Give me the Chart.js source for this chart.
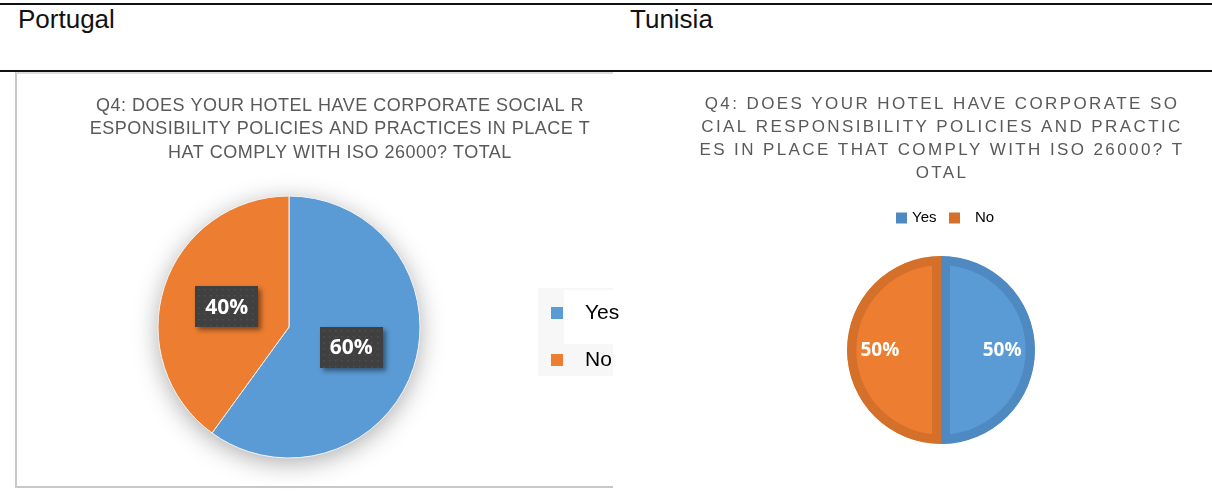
<!DOCTYPE html>
<html>
<head>
<meta charset="utf-8">
<script src="https://cdn.jsdelivr.net/npm/chart.js@4.4.1/dist/chart.umd.min.js"></script>
<style>
  body { margin: 0; background: #fff; width: 1212px; height: 501px; position: relative; overflow: hidden; }
  .rule { position: absolute; left: 0; width: 1212px; height: 2px; background: #111; }
  .country { position: absolute; top: 4px; font-family: "Liberation Sans", Arial, sans-serif; font-size: 26px; color: #111; }
  #panel { position: absolute; left: 15px; top: 72px; width: 598px; height: 416px;
           border-left: 2px solid #c8c8c8; border-bottom: 2px solid #c8c8c8; border-top: 2px solid #dcdcdc; box-sizing: border-box; }
  canvas { position: absolute; }
</style>
</head>
<body>
<div class="rule" style="top:3px"></div>
<div class="rule" style="top:70px"></div>
<div class="country" style="left:18px">Portugal</div>
<div class="country" style="left:630px">Tunisia</div>
<div id="panel"></div>
<canvas id="tnChart" width="599" height="429" style="left:613px; top:72px"></canvas>
<canvas id="ptChart" width="630" height="418" style="left:16px; top:72px"></canvas>

<script>
// answers to Q4, percent of hotels
const answers = ['Yes', 'No'];
const portugalValues = [60, 40];
const tunisiaValues = [50, 50];

const portugalTitle = [
  'Q4: DOES YOUR HOTEL HAVE CORPORATE SOCIAL R',
  'ESPONSIBILITY POLICIES AND PRACTICES IN PLACE T',
  'HAT COMPLY WITH ISO 26000? TOTAL'
];
const tunisiaTitle = [
  'Q4: DOES YOUR HOTEL HAVE CORPORATE SO',
  'CIAL RESPONSIBILITY POLICIES AND PRACTIC',
  'ES IN PLACE THAT COMPLY WITH ISO 26000? T',
  'OTAL'
];

const blue = '#5b9bd5';
const orange = '#ed7d31';

// title drawn line by line, centred on a given x
const titleLines = {
  id: 'titleLines',
  afterDraw(chart, args, opts) {
    const ctx = chart.ctx;
    ctx.save();
    ctx.fillStyle = '#595959';
    ctx.font = opts.font;
    ctx.letterSpacing = opts.spacing || '0px';
    ctx.textAlign = 'center';
    ctx.textBaseline = 'middle';
    opts.lines.forEach((line, i) => {
      ctx.fillText(line, opts.x, opts.y + i * opts.lineHeight);
    });
    ctx.restore();
  }
};

// soft shadow under the whole pie
const pieShadow = {
  id: 'pieShadow',
  beforeDatasetsDraw(chart, args, opts) {
    if (!opts.enabled) return;
    const arc = chart.getDatasetMeta(0).data[0];
    const p = arc.getProps(['x', 'y', 'outerRadius'], true);
    const ctx = chart.ctx;
    ctx.save();
    ctx.shadowColor = 'rgba(0,0,0,0.35)';
    ctx.shadowBlur = 26;
    ctx.shadowOffsetY = 5;
    ctx.fillStyle = '#fff';
    ctx.beginPath();
    ctx.arc(p.x, p.y, p.outerRadius - 1, 0, Math.PI * 2);
    ctx.fill();
    ctx.restore();
  }
};

// percentage labels, optionally on a dark dotted box
const sliceLabels = {
  id: 'sliceLabels',
  afterDatasetsDraw(chart, args, opts) {
    const ctx = chart.ctx;
    const values = chart.data.datasets[0].data;
    const total = values.reduce((a, b) => a + b, 0);
    chart.getDatasetMeta(0).data.forEach((arc, i) => {
      const p = arc.getProps(['x', 'y', 'startAngle', 'endAngle', 'outerRadius'], true);
      const mid = (p.startAngle + p.endAngle) / 2;
      const cx = p.x + Math.cos(mid) * p.outerRadius * opts.factor;
      const cy = p.y + Math.sin(mid) * p.outerRadius * opts.factor;
      const text = Math.round(values[i] / total * 100) + '%';
      ctx.save();
      if (opts.box) {
        const w = 63, h = 41;
        const x0 = Math.round(cx - w / 2), y0 = Math.round(cy - h / 2);
        ctx.shadowColor = 'rgba(0,0,0,0.45)';
        ctx.shadowBlur = 5;
        ctx.shadowOffsetX = 3;
        ctx.shadowOffsetY = 3;
        ctx.fillStyle = '#404040';
        ctx.fillRect(x0, y0, w, h);
        ctx.shadowColor = 'transparent';
        ctx.fillStyle = '#4f4f4f';
        for (let yy = y0 + 3; yy < y0 + h; yy += 6) {
          for (let xx = x0 + 3; xx < x0 + w; xx += 6) {
            ctx.fillRect(xx, yy, 1.5, 1.5);
          }
        }
      }
      ctx.fillStyle = '#fff';
      ctx.font = opts.font;
      ctx.textAlign = 'center';
      ctx.textBaseline = 'middle';
      ctx.fillText(text, cx, cy + 1);
      ctx.restore();
    });
  }
};

// legend with square markers at fixed spots
const squareLegend = {
  id: 'squareLegend',
  afterDraw(chart, args, opts) {
    const ctx = chart.ctx;
    const ds = chart.data.datasets[0];
    ctx.save();
    if (opts.panel) {
      ctx.fillStyle = '#f7f7f7';
      ctx.fillRect(opts.panel[0], opts.panel[1], opts.panel[2], opts.panel[3]);
      ctx.fillStyle = '#fff';
      ctx.fillRect(opts.panel[0] + 26, opts.panel[1] + 2, opts.panel[2] - 26, 54);
    }
    ctx.font = opts.font;
    ctx.textBaseline = 'middle';
    chart.data.labels.forEach((label, i) => {
      const pos = opts.items[i];
      ctx.fillStyle = ds.legendColor ? ds.legendColor[i] : ds.backgroundColor[i];
      ctx.fillRect(pos[0], pos[1] - opts.box / 2, opts.box, opts.box);
      ctx.fillStyle = '#000';
      ctx.fillText(label, pos[2], pos[1]);
    });
    ctx.restore();
  }
};

new Chart(document.getElementById('ptChart'), {
  type: 'pie',
  data: {
    labels: answers,
    datasets: [{
      data: portugalValues,
      backgroundColor: [blue, orange],
      borderColor: '#f4f4f4',
      borderWidth: 1
    }]
  },
  options: {
    responsive: false,
    animation: false,
    events: [],
    layout: { padding: { left: 141.5, right: 225.5, top: 123.5, bottom: 31.5 } },
    plugins: {
      legend: { display: false },
      tooltip: { enabled: false },
      titleLines: {
        lines: portugalTitle, x: 324, y: 34, lineHeight: 23.5,
        font: '18px "Liberation Sans", Arial, sans-serif', spacing: '0.5px'
      },
      pieShadow: { enabled: true },
      sliceLabels: { factor: 0.5, box: true, font: 'bold 21px "Open Sans", sans-serif' },
      squareLegend: {
        panel: [522, 216, 75, 88],
        items: [[535, 241, 569], [535, 288, 569]],
        box: 12,
        font: '21px "Liberation Sans", Arial, sans-serif'
      }
    }
  },
  plugins: [titleLines, pieShadow, sliceLabels, squareLegend]
});

new Chart(document.getElementById('tnChart'), {
  type: 'pie',
  data: {
    labels: answers,
    datasets: [{
      data: tunisiaValues,
      backgroundColor: [blue, orange],
      borderColor: ['#4f89c1', '#d5702b'],
      legendColor: ['#4f89c1', '#d5702b'],
      borderAlign: 'inner',
      borderWidth: 9
    }]
  },
  options: {
    responsive: false,
    animation: false,
    events: [],
    layout: { padding: { left: 234, right: 177, top: 184, bottom: 57 } },
    plugins: {
      legend: { display: false },
      tooltip: { enabled: false },
      titleLines: {
        lines: tunisiaTitle, x: 329, y: 32, lineHeight: 23,
        font: '17px "Liberation Sans", Arial, sans-serif', spacing: '2.4px'
      },
      pieShadow: { enabled: false },
      sliceLabels: { factor: 0.65, box: false, font: 'bold 19px "Open Sans", sans-serif' },
      squareLegend: {
        items: [[283, 146, 299], [336, 146, 362]],
        box: 11,
        font: '15px "Liberation Sans", Arial, sans-serif'
      }
    }
  },
  plugins: [titleLines, pieShadow, sliceLabels, squareLegend]
});
</script>
</body>
</html>
